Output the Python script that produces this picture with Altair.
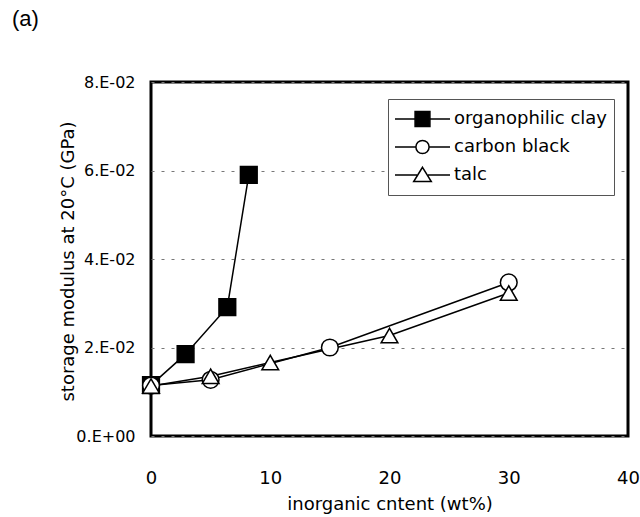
import altair as alt
import pandas as pd

series_names = ["organophilic clay", "carbon black", "talc"]

clay_x = [0, 2.9, 6.4, 8.2]
clay_y = [0.0115, 0.0185, 0.0291, 0.0590]

cb_x = [0, 5, 15, 30]
cb_y = [0.0114, 0.0127, 0.0200, 0.0347]

talc_x = [0, 5, 10, 20, 30]
talc_y = [0.0113, 0.0135, 0.0166, 0.0227, 0.0323]

x_ticks = [0, 10, 20, 30, 40]
y_ticks = [0, 0.02, 0.04, 0.06, 0.08]

rows = []
for name, xs, ys in zip(series_names, [clay_x, cb_x, talc_x], [clay_y, cb_y, talc_y]):
    for i, (xv, yv) in enumerate(zip(xs, ys)):
        rows.append({"series": name, "x": xv, "y": yv, "order": i})
df = pd.DataFrame(rows)

FONT = "DejaVu Sans"

x_enc = alt.X("x:Q", scale=alt.Scale(domain=[0, 40], nice=False),
              axis=alt.Axis(values=x_ticks, title="inorganic cntent (wt%)", grid=False,
                            ticks=False, domain=False, labelPadding=33, labelFontSize=18,
                            labelFont=FONT, titleFont=FONT, titleFontSize=18,
                            titleFontWeight="normal", titlePadding=8, labelColor="black",
                            titleColor="black", labelFlush=False))
y_enc = alt.Y("y:Q", scale=alt.Scale(domain=[0, 0.08], nice=False),
              axis=alt.Axis(values=y_ticks, title="storage modulus at 20°C (GPa)", grid=True,
                            gridDash=[3, 7], gridColor="#777", gridWidth=1,
                            ticks=False, domain=False, labelPadding=16, labelFontSize=16,
                            labelFont=FONT, titleFont=FONT, titleFontSize=18,
                            titleFontWeight="normal", titleX=-74, titleY=179,
                            labelColor="black", titleColor="black", labelFlush=False,
                            labelExpr="datum.value == 0 ? '0.E+00' : round(datum.value*100) + '.E-02'"))

lines = alt.Chart(df).mark_line(color="black", strokeWidth=1.5).encode(
    x=x_enc, y=y_enc, detail="series:N", order="order:Q")

points = alt.Chart(df).mark_point(stroke="black", strokeWidth=1.5, opacity=1, fillOpacity=1, size=280).encode(
    x="x:Q", y="y:Q",
    shape=alt.Shape("series:N", scale=alt.Scale(domain=series_names, range=["square", "circle", "triangle-up"]), legend=None),
    fill=alt.Fill("series:N", scale=alt.Scale(domain=series_names, range=["black", "white", "white"]), legend=None),
)

sq = "M-1,0H-0.27M0.27,0H1M-0.27,-0.27H0.27V0.27H-0.27Z"
ci = "M-1,0H-0.24M0.24,0H1M-0.24,0A0.24,0.24 0 1,0 0.24,0A0.24,0.24 0 1,0 -0.24,0Z"
tr = "M-1,0H-0.2M0.2,0H1M0,-0.28L0.32,0.24H-0.32Z"

leg = alt.Legend(orient="none", legendX=237, legendY=17, title=None, strokeColor="#555",
                 fillColor="white", padding=6, symbolSize=3025, clipHeight=28, rowPadding=0,
                 labelFont=FONT, labelFontSize=18, labelOffset=3, labelColor="black",
                 symbolStrokeColor="black", symbolStrokeWidth=1.5, symbolOpacity=1)

legend_layer = alt.Chart(df).transform_filter("datum.x > 1000").mark_point(
    stroke="black", strokeWidth=1.5, opacity=1, fillOpacity=1).encode(
    x="x:Q", y="y:Q",
    shape=alt.Shape("series:N", scale=alt.Scale(domain=series_names, range=[sq, ci, tr]), legend=leg),
    fill=alt.Fill("series:N", scale=alt.Scale(domain=series_names, range=["black", "white", "white"]), legend=leg),
    stroke=alt.Stroke("series:N", scale=alt.Scale(domain=series_names, range=["black", "black", "black"]), legend=leg),
)

chart = alt.layer(lines, points, legend_layer).resolve_scale(
    shape="independent", fill="independent", stroke="independent"
).properties(
    width=477, height=354,
    title=alt.TitleParams("(a)", anchor="start", frame="group", dx=-139, dy=-21, offset=0,
                          baseline="bottom", fontSize=22,
                          fontWeight="normal", font="Liberation Sans", color="black"),
    autosize=alt.AutoSizeParams(type="none"),
    padding={"left": 151, "top": 82, "right": 12, "bottom": 81},
    background="white",
).configure_view(stroke="black", strokeWidth=3)

chart.save("out.html", embed_options={"renderer": "svg", "actions": False})
